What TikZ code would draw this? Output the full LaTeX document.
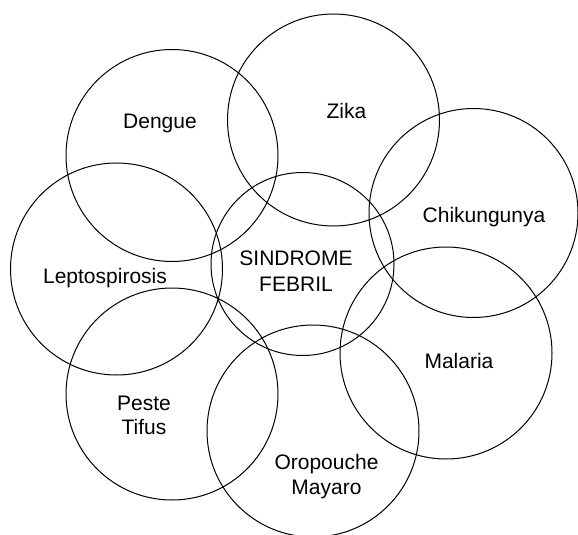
\documentclass[tikz,border=0pt]{standalone}
\usepackage{fontspec}
\setmainfont{Liberation Sans}
\begin{document}
\begin{tikzpicture}[x=1pt,y=-1pt,
  ring/.style={draw=black, circle, line width=1pt, inner sep=0pt, minimum size=212pt},
  lbl/.style={font=\fontsize{21}{25}\selectfont, anchor=base, inner sep=0pt}]
\useasboundingbox (0,0) rectangle (578,535);
\fill[white] (0,0) rectangle (578,535);
% circles
\node[ring] (cDengue) at (172,155.5) {};
\node[ring] (cZika) at (333.5,120) {};
\node[ring, minimum size=209pt] (cChik) at (473.5,213) {};
\node[ring] (cLepto) at (116.5,269) {};
\node[ring, minimum size=183pt] (cFebril) at (302.5,264) {};
\node[ring] (cMalaria) at (446,353) {};
\node[ring] (cPeste) at (172,394) {};
\node[ring] (cOro) at (313,431) {};
% labels
\node[lbl] (tDengue) at (160,128.5) {Dengue};
\node[lbl] (tZika) at (346.5,118) {Zika};
\node[lbl] (tChik) at (484,222) {Chikungunya};
\node[lbl] (tSind) at (296,265) {SINDROME};
\node[lbl] (tFeb) at (296,291) {FEBRIL};
\node[lbl] (tLepto) at (105,283) {Leptospirosis};
\node[lbl] (tMalaria) at (459,368) {Malaria};
\node[lbl] (tPeste) at (144,410) {Peste};
\node[lbl] (tTifus) at (144,434) {Tifus};
\node[lbl] (tOro) at (326.5,469) {Oropouche};
\node[lbl] (tMay) at (326.5,494) {Mayaro};
\end{tikzpicture}
\end{document}
